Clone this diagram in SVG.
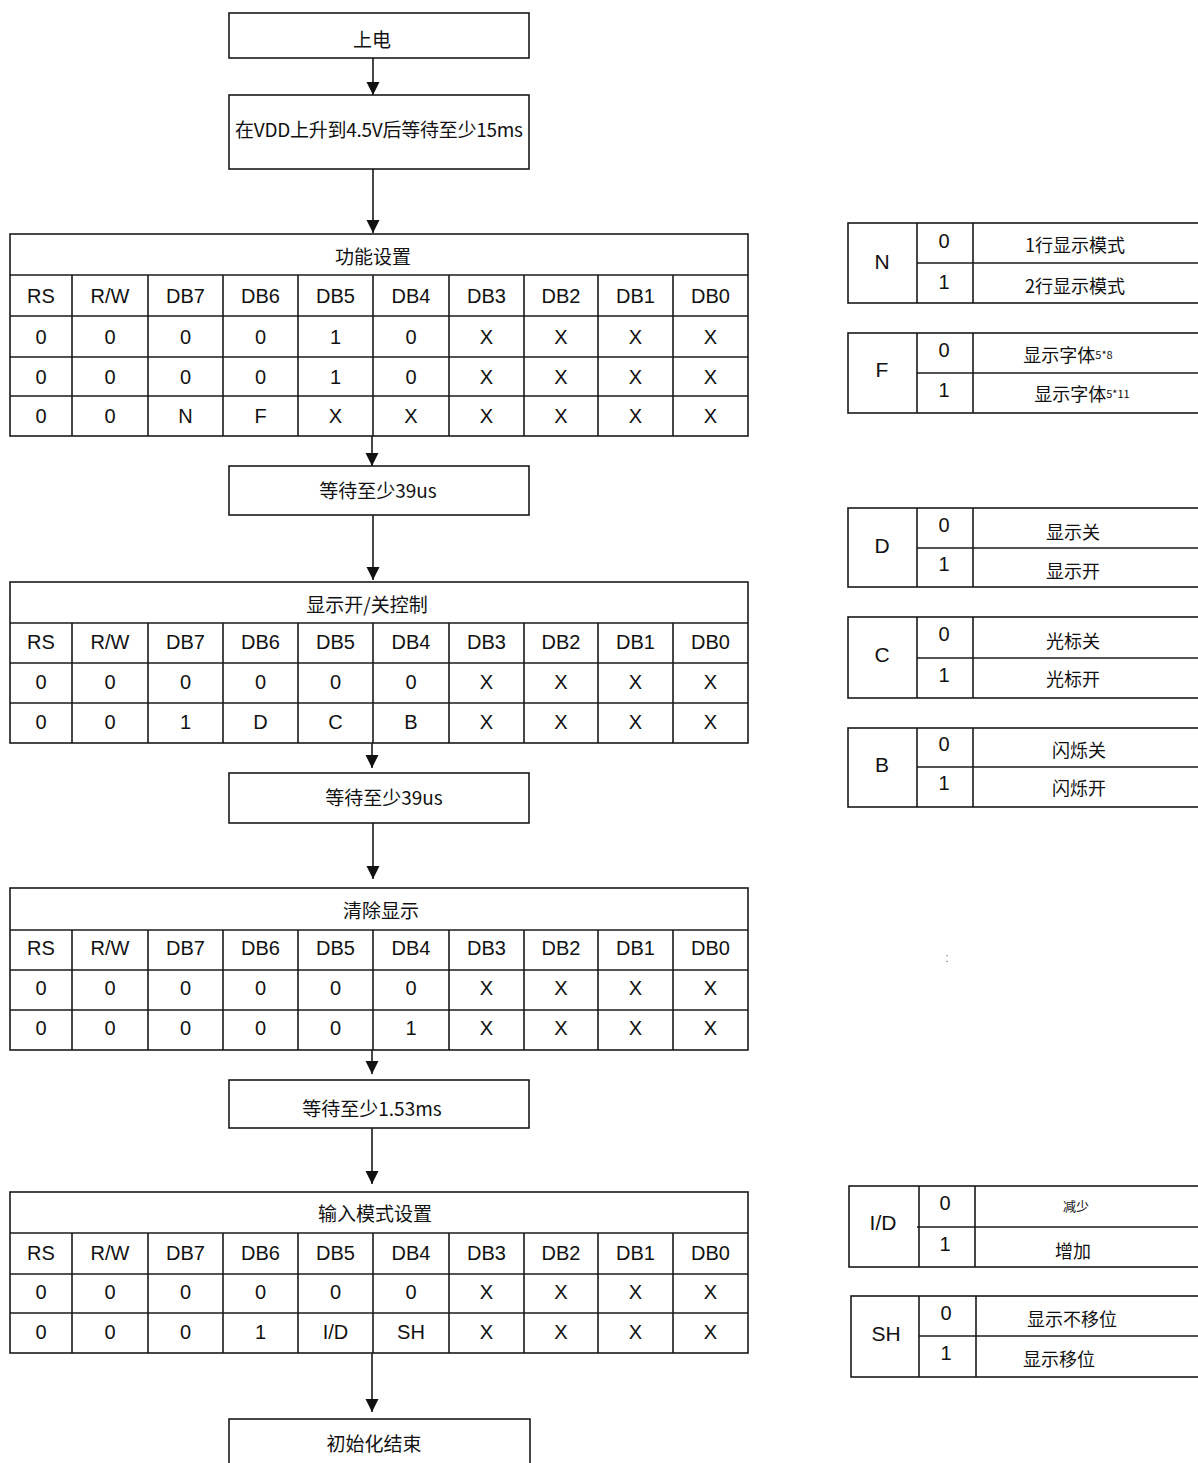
<svg xmlns="http://www.w3.org/2000/svg" width="1198" height="1463" viewBox="0 0 1198 1463">
  <style>
    .box { fill: #fff; stroke: #1a1a1a; stroke-width: 1.6; }
    .ln { stroke: #1a1a1a; stroke-width: 1.6; fill: none; }
    .cjk { font-family: "Noto Sans CJK SC", "Liberation Sans", sans-serif; font-size: 19px; fill: #111; text-anchor: middle; dominant-baseline: central; }
    .cell { font-family: "Liberation Sans", Arial, sans-serif; font-size: 20px; fill: #111; text-anchor: middle; dominant-baseline: central; }
    .big { font-family: "Liberation Sans", Arial, sans-serif; font-size: 21px; fill: #111; text-anchor: middle; dominant-baseline: central; }
    .desc { font-family: "Noto Sans CJK SC", "Liberation Sans", sans-serif; font-size: 18px; fill: #111; text-anchor: middle; dominant-baseline: central; }
    .small { font-size: 11px; }
    .conn { stroke: #1a1a1a; stroke-width: 1.6; fill: none; marker-end: url(#arrow); }
  </style>
  <defs>
    <marker id="arrow" markerUnits="userSpaceOnUse" markerWidth="14" markerHeight="14" refX="13" refY="6.5" orient="auto">
      <path d="M0,0 L13,6.5 L0,13 z" fill="#111"/>
    </marker>
    <!-- shared 10-column register grid: column dividers + header labels -->
    <g id="grid-cols">
      <line x1="72" y1="0" x2="72" y2="161"/>
      <line x1="148" y1="0" x2="148" y2="161"/>
      <line x1="223" y1="0" x2="223" y2="161"/>
      <line x1="298" y1="0" x2="298" y2="161"/>
      <line x1="373" y1="0" x2="373" y2="161"/>
      <line x1="449" y1="0" x2="449" y2="161"/>
      <line x1="524" y1="0" x2="524" y2="161"/>
      <line x1="598" y1="0" x2="598" y2="161"/>
      <line x1="673" y1="0" x2="673" y2="161"/>
    </g>
    <g id="hdr">
      <text class="cell" x="41" y="0">RS</text>
      <text class="cell" x="110" y="0">R/W</text>
      <text class="cell" x="185.5" y="0">DB7</text>
      <text class="cell" x="260.5" y="0">DB6</text>
      <text class="cell" x="335.5" y="0">DB5</text>
      <text class="cell" x="411" y="0">DB4</text>
      <text class="cell" x="486.5" y="0">DB3</text>
      <text class="cell" x="561" y="0">DB2</text>
      <text class="cell" x="635.5" y="0">DB1</text>
      <text class="cell" x="710.5" y="0">DB0</text>
    </g>
  </defs>

  <rect width="1198" height="1463" fill="#fff"/>

  <!-- connectors -->
  <g id="connectors">
    <line class="conn" x1="373" y1="58" x2="373" y2="95"/>
    <line class="conn" x1="373" y1="169" x2="373" y2="233"/>
    <line class="conn" x1="372" y1="429" x2="372" y2="466"/>
    <line class="conn" x1="373" y1="515" x2="373" y2="580"/>
    <line class="conn" x1="372" y1="737" x2="372" y2="768"/>
    <line class="conn" x1="373" y1="823" x2="373" y2="879"/>
    <line class="conn" x1="372" y1="1043" x2="372" y2="1074"/>
    <line class="conn" x1="372" y1="1128" x2="372" y2="1184"/>
    <line class="conn" x1="372" y1="1347" x2="372" y2="1412"/>
  </g>

  <!-- flow steps -->
  <g id="power-on">
    <rect class="box" x="229" y="13" width="300" height="45"/>
    <text class="cjk" x="372" y="38">上电</text>
  </g>
  <g id="wait-vdd">
    <rect class="box" x="229" y="95" width="300" height="74"/>
    <text class="cjk" x="379" y="128" textLength="288" lengthAdjust="spacing">在VDD上升到4.5V后等待至少15ms</text>
  </g>

  <!-- function set -->
  <g id="function-set">
    <rect class="box" x="10" y="234" width="738" height="202"/>
    <g class="ln">
      <line x1="10" y1="275" x2="748" y2="275"/>
      <line x1="10" y1="316" x2="748" y2="316"/>
      <line x1="10" y1="357" x2="748" y2="357"/>
      <line x1="10" y1="396" x2="748" y2="396"/>
      <use href="#grid-cols" transform="translate(0,275)"/>
    </g>
    <text class="cjk" x="373" y="255">功能设置</text>
    <use href="#hdr" transform="translate(0,295.5)"/>
    <g transform="translate(0,336.5)">
      <text class="cell" x="41" y="0">0</text><text class="cell" x="110" y="0">0</text><text class="cell" x="185.5" y="0">0</text><text class="cell" x="260.5" y="0">0</text><text class="cell" x="335.5" y="0">1</text><text class="cell" x="411" y="0">0</text><text class="cell" x="486.5" y="0">X</text><text class="cell" x="561" y="0">X</text><text class="cell" x="635.5" y="0">X</text><text class="cell" x="710.5" y="0">X</text>
    </g>
    <g transform="translate(0,376.5)">
      <text class="cell" x="41" y="0">0</text><text class="cell" x="110" y="0">0</text><text class="cell" x="185.5" y="0">0</text><text class="cell" x="260.5" y="0">0</text><text class="cell" x="335.5" y="0">1</text><text class="cell" x="411" y="0">0</text><text class="cell" x="486.5" y="0">X</text><text class="cell" x="561" y="0">X</text><text class="cell" x="635.5" y="0">X</text><text class="cell" x="710.5" y="0">X</text>
    </g>
    <g transform="translate(0,416)">
      <text class="cell" x="41" y="0">0</text><text class="cell" x="110" y="0">0</text><text class="cell" x="185.5" y="0">N</text><text class="cell" x="260.5" y="0">F</text><text class="cell" x="335.5" y="0">X</text><text class="cell" x="411" y="0">X</text><text class="cell" x="486.5" y="0">X</text><text class="cell" x="561" y="0">X</text><text class="cell" x="635.5" y="0">X</text><text class="cell" x="710.5" y="0">X</text>
    </g>
  </g>

  <g id="wait-39us-1">
    <rect class="box" x="229" y="466" width="300" height="49"/>
    <text class="cjk" x="378" y="489">等待至少39us</text>
  </g>

  <!-- display on/off control -->
  <g id="display-control">
    <rect class="box" x="10" y="582" width="738" height="161"/>
    <g class="ln">
      <line x1="10" y1="623" x2="748" y2="623"/>
      <line x1="10" y1="663" x2="748" y2="663"/>
      <line x1="10" y1="703" x2="748" y2="703"/>
      <use href="#grid-cols" transform="translate(0,623) scale(1,0.745)"/>
    </g>
    <text class="cjk" x="367" y="603">显示开/关控制</text>
    <use href="#hdr" transform="translate(0,642)"/>
    <g transform="translate(0,682)">
      <text class="cell" x="41" y="0">0</text><text class="cell" x="110" y="0">0</text><text class="cell" x="185.5" y="0">0</text><text class="cell" x="260.5" y="0">0</text><text class="cell" x="335.5" y="0">0</text><text class="cell" x="411" y="0">0</text><text class="cell" x="486.5" y="0">X</text><text class="cell" x="561" y="0">X</text><text class="cell" x="635.5" y="0">X</text><text class="cell" x="710.5" y="0">X</text>
    </g>
    <g transform="translate(0,722)">
      <text class="cell" x="41" y="0">0</text><text class="cell" x="110" y="0">0</text><text class="cell" x="185.5" y="0">1</text><text class="cell" x="260.5" y="0">D</text><text class="cell" x="335.5" y="0">C</text><text class="cell" x="411" y="0">B</text><text class="cell" x="486.5" y="0">X</text><text class="cell" x="561" y="0">X</text><text class="cell" x="635.5" y="0">X</text><text class="cell" x="710.5" y="0">X</text>
    </g>
  </g>

  <g id="wait-39us-2">
    <rect class="box" x="229" y="773" width="300" height="50"/>
    <text class="cjk" x="384" y="796">等待至少39us</text>
  </g>

  <!-- clear display -->
  <g id="clear-display">
    <rect class="box" x="10" y="888" width="738" height="162"/>
    <g class="ln">
      <line x1="10" y1="930" x2="748" y2="930"/>
      <line x1="10" y1="970" x2="748" y2="970"/>
      <line x1="10" y1="1010" x2="748" y2="1010"/>
      <use href="#grid-cols" transform="translate(0,930) scale(1,0.745)"/>
    </g>
    <text class="cjk" x="381" y="909">清除显示</text>
    <use href="#hdr" transform="translate(0,948)"/>
    <g transform="translate(0,988)">
      <text class="cell" x="41" y="0">0</text><text class="cell" x="110" y="0">0</text><text class="cell" x="185.5" y="0">0</text><text class="cell" x="260.5" y="0">0</text><text class="cell" x="335.5" y="0">0</text><text class="cell" x="411" y="0">0</text><text class="cell" x="486.5" y="0">X</text><text class="cell" x="561" y="0">X</text><text class="cell" x="635.5" y="0">X</text><text class="cell" x="710.5" y="0">X</text>
    </g>
    <g transform="translate(0,1028)">
      <text class="cell" x="41" y="0">0</text><text class="cell" x="110" y="0">0</text><text class="cell" x="185.5" y="0">0</text><text class="cell" x="260.5" y="0">0</text><text class="cell" x="335.5" y="0">0</text><text class="cell" x="411" y="0">1</text><text class="cell" x="486.5" y="0">X</text><text class="cell" x="561" y="0">X</text><text class="cell" x="635.5" y="0">X</text><text class="cell" x="710.5" y="0">X</text>
    </g>
  </g>

  <g id="wait-1-53ms">
    <rect class="box" x="229" y="1080" width="300" height="48"/>
    <text class="cjk" x="372" y="1107">等待至少1.53ms</text>
  </g>

  <!-- entry mode set -->
  <g id="entry-mode">
    <rect class="box" x="10" y="1192" width="738" height="161"/>
    <g class="ln">
      <line x1="10" y1="1233" x2="748" y2="1233"/>
      <line x1="10" y1="1274" x2="748" y2="1274"/>
      <line x1="10" y1="1313" x2="748" y2="1313"/>
      <use href="#grid-cols" transform="translate(0,1233) scale(1,0.745)"/>
    </g>
    <text class="cjk" x="375" y="1212">输入模式设置</text>
    <use href="#hdr" transform="translate(0,1253)"/>
    <g transform="translate(0,1292)">
      <text class="cell" x="41" y="0">0</text><text class="cell" x="110" y="0">0</text><text class="cell" x="185.5" y="0">0</text><text class="cell" x="260.5" y="0">0</text><text class="cell" x="335.5" y="0">0</text><text class="cell" x="411" y="0">0</text><text class="cell" x="486.5" y="0">X</text><text class="cell" x="561" y="0">X</text><text class="cell" x="635.5" y="0">X</text><text class="cell" x="710.5" y="0">X</text>
    </g>
    <g transform="translate(0,1332)">
      <text class="cell" x="41" y="0">0</text><text class="cell" x="110" y="0">0</text><text class="cell" x="185.5" y="0">0</text><text class="cell" x="260.5" y="0">1</text><text class="cell" x="335.5" y="0">I/D</text><text class="cell" x="411" y="0">SH</text><text class="cell" x="486.5" y="0">X</text><text class="cell" x="561" y="0">X</text><text class="cell" x="635.5" y="0">X</text><text class="cell" x="710.5" y="0">X</text>
    </g>
  </g>

  <g id="init-done">
    <rect class="box" x="229" y="1419" width="301" height="60"/>
    <text class="cjk" x="374" y="1442">初始化结束</text>
  </g>

  <!-- bit legends (right column, cut at the page edge) -->
  <g id="legend-N">
    <rect class="box" x="848" y="223" width="360" height="80"/>
    <line class="ln" x1="917" y1="223" x2="917" y2="303"/>
    <line class="ln" x1="973" y1="223" x2="973" y2="303"/>
    <line class="ln" x1="917" y1="263" x2="1198" y2="263"/>
    <text class="big" x="882" y="261">N</text>
    <text class="cell" x="944" y="241">0</text>
    <text class="cell" x="944" y="282">1</text>
    <text class="desc" x="1075" y="244">1行显示模式</text>
    <text class="desc" x="1075" y="285">2行显示模式</text>
  </g>
  <g id="legend-F">
    <rect class="box" x="848" y="333" width="360" height="80"/>
    <line class="ln" x1="917" y1="333" x2="917" y2="413"/>
    <line class="ln" x1="973" y1="333" x2="973" y2="413"/>
    <line class="ln" x1="917" y1="373" x2="1198" y2="373"/>
    <text class="big" x="882" y="369">F</text>
    <text class="cell" x="944" y="350">0</text>
    <text class="cell" x="944" y="390">1</text>
    <text class="desc" x="1068" y="354">显示字体<tspan class="small">5*8</tspan></text>
    <text class="desc" x="1082" y="393">显示字体<tspan class="small">5*11</tspan></text>
  </g>
  <g id="legend-D">
    <rect class="box" x="848" y="508" width="360" height="79"/>
    <line class="ln" x1="917" y1="508" x2="917" y2="587"/>
    <line class="ln" x1="973" y1="508" x2="973" y2="587"/>
    <line class="ln" x1="917" y1="548" x2="1198" y2="548"/>
    <text class="big" x="882" y="545">D</text>
    <text class="cell" x="944" y="525">0</text>
    <text class="cell" x="944" y="564">1</text>
    <text class="desc" x="1073" y="531">显示关</text>
    <text class="desc" x="1073" y="570">显示开</text>
  </g>
  <g id="legend-C">
    <rect class="box" x="848" y="617" width="360" height="81"/>
    <line class="ln" x1="917" y1="617" x2="917" y2="698"/>
    <line class="ln" x1="973" y1="617" x2="973" y2="698"/>
    <line class="ln" x1="917" y1="658" x2="1198" y2="658"/>
    <text class="big" x="882" y="654">C</text>
    <text class="cell" x="944" y="634">0</text>
    <text class="cell" x="944" y="675">1</text>
    <text class="desc" x="1073" y="640">光标关</text>
    <text class="desc" x="1073" y="678">光标开</text>
  </g>
  <g id="legend-B">
    <rect class="box" x="848" y="728" width="360" height="79"/>
    <line class="ln" x1="917" y1="728" x2="917" y2="807"/>
    <line class="ln" x1="973" y1="728" x2="973" y2="807"/>
    <line class="ln" x1="917" y1="767" x2="1198" y2="767"/>
    <text class="big" x="882" y="764">B</text>
    <text class="cell" x="944" y="744">0</text>
    <text class="cell" x="944" y="783">1</text>
    <text class="desc" x="1079" y="749">闪烁关</text>
    <text class="desc" x="1079" y="787">闪烁开</text>
  </g>

  <text x="947" y="958" font-family="Liberation Sans, sans-serif" font-size="12" fill="#777" text-anchor="middle" dominant-baseline="central">:</text>

  <g id="legend-ID">
    <rect class="box" x="849" y="1186" width="360" height="81"/>
    <line class="ln" x1="919" y1="1186" x2="919" y2="1267"/>
    <line class="ln" x1="975" y1="1186" x2="975" y2="1267"/>
    <line class="ln" x1="917" y1="1227" x2="1198" y2="1227"/>
    <text class="big" x="883" y="1222">I/D</text>
    <text class="cell" x="945" y="1203">0</text>
    <text class="cell" x="945" y="1244">1</text>
    <text class="desc" x="1076" y="1205" style="font-size:13px">减少</text>
    <text class="desc" x="1073" y="1250">增加</text>
  </g>
  <g id="legend-SH">
    <rect class="box" x="851" y="1296" width="360" height="81"/>
    <line class="ln" x1="919" y1="1296" x2="919" y2="1377"/>
    <line class="ln" x1="976" y1="1296" x2="976" y2="1377"/>
    <line class="ln" x1="919" y1="1336" x2="1198" y2="1336"/>
    <text class="big" x="886" y="1333">SH</text>
    <text class="cell" x="946" y="1313">0</text>
    <text class="cell" x="946" y="1353">1</text>
    <text class="desc" x="1072" y="1318">显示不移位</text>
    <text class="desc" x="1059" y="1358">显示移位</text>
  </g>
</svg>
